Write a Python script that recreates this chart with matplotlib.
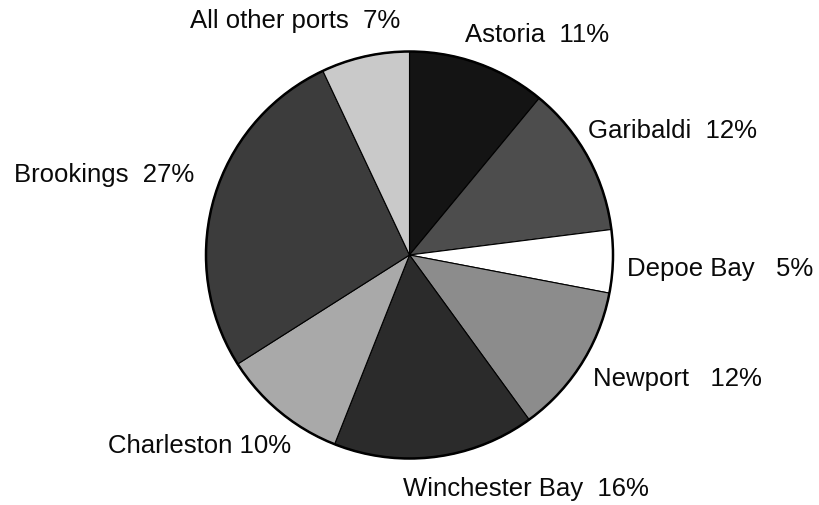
import matplotlib.pyplot as plt

# share of landings by port (clockwise from 12 o'clock)
ports = ["Astoria", "Garibaldi", "Depoe Bay", "Newport", "Winchester Bay",
         "Charleston", "Brookings", "All other ports"]
shares = [11, 12, 5, 12, 16, 10, 27, 7]
labels = ["Astoria  11%", "Garibaldi  12%", "Depoe Bay   5%", "Newport   12%",
          "Winchester Bay  16%", "Charleston 10%", "Brookings  27%",
          "All other ports  7%"]
greys = ["#141414", "#4d4d4d", "#ffffff", "#8c8c8c", "#2b2b2b",
         "#a9a9a9", "#3c3c3c", "#c9c9c9"]

# label centres in pixel coords (x, y from top)
label_pos = [(537, 35), (673, 131), (720, 269), (677, 379),
             (526, 489), (200, 446), (104, 175), (295, 21)]

plt.rcParams['font.family'] = ['Liberation Sans', 'DejaVu Sans']

fig = plt.figure(figsize=(8.2, 5.05), dpi=100)
ax = fig.add_axes([0, 0, 1, 1])

wedges, _ = ax.pie(shares, colors=greys, startangle=90, counterclock=False,
                   center=(409.5, 250), radius=203.5,
                   wedgeprops=dict(edgecolor='black', linewidth=0.8))

# heavier outer rim like the printed original
rim = plt.Circle((409.5, 250), 203.5, fill=False, edgecolor='black', linewidth=1.8)
ax.add_patch(rim)

for lab, (x, y) in zip(labels, label_pos):
    ax.text(x, 505 - y, lab, ha='center', va='center', fontsize=18.5,
            color='#0a0a0a')

ax.set_xlim(0, 820)
ax.set_ylim(0, 505)
ax.set_aspect('equal')
ax.axis('off')

fig.savefig("out.png", dpi=100)
